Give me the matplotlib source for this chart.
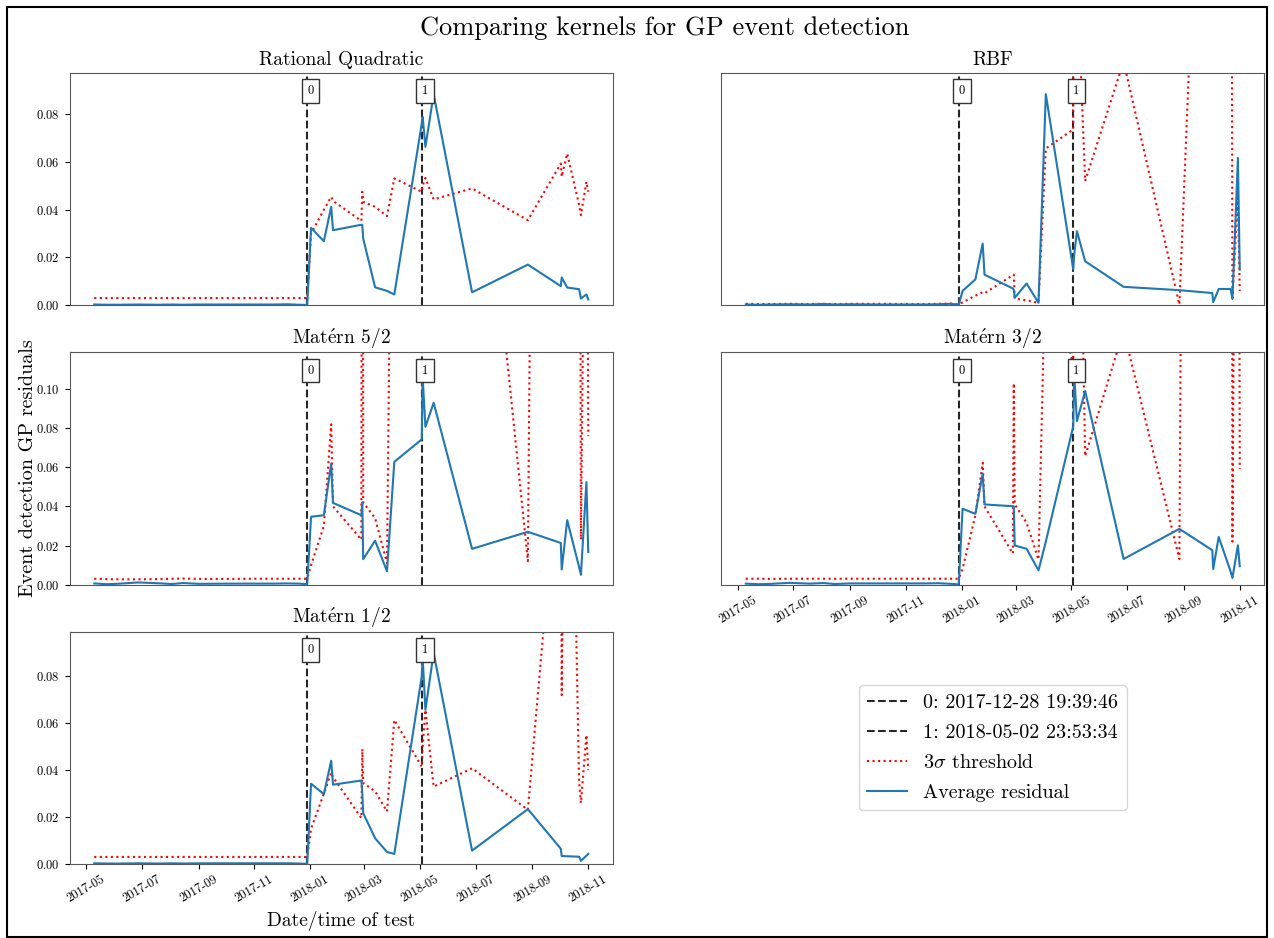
import matplotlib
matplotlib.use('Agg')
import matplotlib.pyplot as plt
import matplotlib.dates as mdates
from matplotlib.patches import Rectangle
import pandas as pd

plt.rcParams['font.family'] = 'serif'
plt.rcParams['font.serif'] = ['cmr10']
plt.rcParams['mathtext.fontset'] = 'cm'
plt.rcParams['axes.formatter.use_mathtext'] = True

# test dates (shared by every kernel)
dates = pd.to_datetime([
    '2017-05-10', '2017-05-24', '2017-06-07', '2017-06-27', '2017-07-19',
    '2017-08-03', '2017-08-15', '2017-09-01', '2017-10-04', '2017-11-01',
    '2017-11-22', '2017-12-07', '2017-12-20', '2017-12-28 19:39:46',
    '2018-01-02', '2018-01-16', '2018-01-24', '2018-01-26', '2018-02-26',
    '2018-02-27', '2018-02-28', '2018-03-13', '2018-03-26', '2018-04-03',
    '2018-05-02 23:53:34', '2018-05-04', '2018-05-07', '2018-05-16',
    '2018-06-27', '2018-08-27', '2018-10-02', '2018-10-03', '2018-10-09',
    '2018-10-22', '2018-10-24', '2018-10-30', '2018-11-01'], format='mixed')

events = pd.to_datetime(['2017-12-28 19:39:46', '2018-05-02 23:53:34'])

# average residuals
rq_res = [0.0003, 0.0002, 0.0002, 0.0003, 0.0002, 0.0003, 0.0002, 0.0003, 0.0003, 0.0003, 0.0003, 0.0004, 0.0002, 0.0001,
          0.0324, 0.0268, 0.0412, 0.0314, 0.0337, 0.0335, 0.0279, 0.0075, 0.0060, 0.0045, 0.0760, 0.0789, 0.0663,
          0.0884, 0.0054, 0.0170, 0.0080, 0.0116, 0.0074, 0.0067, 0.0028, 0.0045, 0.0024]
rbf_res = [0.0003, 0.0002, 0.0003, 0.0004, 0.0003, 0.0005, 0.0003, 0.0004, 0.0003, 0.0003, 0.0003, 0.0004, 0.0006, 0.0002,
           0.0060, 0.0108, 0.0258, 0.0128, 0.0070, 0.0065, 0.0031, 0.0091, 0.0010, 0.0884, 0.0150, 0.0210, 0.0310,
           0.0184, 0.0077, 0.0063, 0.0051, 0.0013, 0.0068, 0.0068, 0.0026, 0.0617, 0.0149]
m52_res = [0.0006, 0.0002, 0.0005, 0.0011, 0.0007, 0.0003, 0.0008, 0.0004, 0.0005, 0.0005, 0.0005, 0.0006, 0.0005, 0.0002,
           0.0347, 0.0355, 0.0620, 0.0418, 0.0355, 0.0420, 0.0130, 0.0225, 0.0068, 0.0628, 0.0743, 0.1060, 0.0807,
           0.0930, 0.0183, 0.0270, 0.0213, 0.0077, 0.0330, 0.0090, 0.0050, 0.0524, 0.0167]
m32_res = [0.0005, 0.0002, 0.0004, 0.0009, 0.0005, 0.0008, 0.0003, 0.0006, 0.0006, 0.0006, 0.0006, 0.0007, 0.0004, 0.0001,
           0.0388, 0.0362, 0.0568, 0.0410, 0.0401, 0.0400, 0.0200, 0.0183, 0.0073, 0.0220, 0.0810, 0.1080, 0.0836,
           0.0990, 0.0131, 0.0285, 0.0176, 0.0080, 0.0244, 0.0067, 0.0034, 0.0201, 0.0094]
m12_res = [0.0003, 0.0002, 0.0002, 0.0003, 0.0002, 0.0003, 0.0002, 0.0003, 0.0003, 0.0003, 0.0003, 0.0003, 0.0002, 0.0001,
           0.0342, 0.0298, 0.0440, 0.0338, 0.0356, 0.0300, 0.0217, 0.0110, 0.0051, 0.0043, 0.0800, 0.0880, 0.0657,
           0.0900, 0.0057, 0.0234, 0.0065, 0.0034, 0.0033, 0.0031, 0.0014, 0.0035, 0.0043]

# 3 sigma thresholds
rq_thr = [0.0030, 0.0030, 0.0030, 0.0030, 0.0030, 0.0030, 0.0030, 0.0030, 0.0030, 0.0030, 0.0030, 0.0030, 0.0030, 0.0030,
          0.0300, 0.0400, 0.0454, 0.0437, 0.0353, 0.0475, 0.0433, 0.0412, 0.0373, 0.0531, 0.0475, 0.0500, 0.0533,
          0.0443, 0.0489, 0.0356, 0.0593, 0.0538, 0.0635, 0.0420, 0.0377, 0.0517, 0.0475]
rbf_thr = [0.0006, 0.0005, 0.0005, 0.0006, 0.0005, 0.0006, 0.0005, 0.0006, 0.0006, 0.0005, 0.0005, 0.0006, 0.0007, 0.0004,
           0.0012, 0.0040, 0.0054, 0.0050, 0.0126, 0.0128, 0.0028, 0.0020, 0.0010, 0.0656, 0.0736, 0.3000, 0.1400,
           0.0520, 0.1020, 0.0003, 0.3400, 0.4000, 0.4000, 0.4000, 0.0030, 0.0450, 0.0060]
m52_thr = [0.0030, 0.0028, 0.0027, 0.0027, 0.0028, 0.0030, 0.0031, 0.0029, 0.0029, 0.0030, 0.0030, 0.0030, 0.0030, 0.0030,
           0.0100, 0.0300, 0.0820, 0.0400, 0.0230, 0.6000, 0.0420, 0.0340, 0.0110, 0.3700, 0.3500, 0.3500, 0.3300,
           0.3200, 0.2900, 0.0120, 2.0000, 1.8000, 0.8000, 0.5000, 0.0230, 0.3100, 0.0760]
m32_thr = [0.0030, 0.0030, 0.0029, 0.0030, 0.0030, 0.0030, 0.0030, 0.0030, 0.0030, 0.0030, 0.0030, 0.0030, 0.0030, 0.0030,
           0.0080, 0.0355, 0.0623, 0.0400, 0.0159, 0.1030, 0.0410, 0.0316, 0.0128, 0.1730, 0.1120, 0.4000, 0.3000,
           0.0657, 0.1300, 0.0131, 2.9000, 2.5000, 2.0000, 1.0000, 0.0220, 0.5000, 0.0590]
m12_thr = [0.0030, 0.0030, 0.0030, 0.0030, 0.0030, 0.0030, 0.0030, 0.0030, 0.0030, 0.0030, 0.0030, 0.0030, 0.0030, 0.0030,
           0.0150, 0.0300, 0.0390, 0.0370, 0.0196, 0.0490, 0.0345, 0.0310, 0.0224, 0.0614, 0.0415, 0.0500, 0.0657,
           0.0330, 0.0408, 0.0231, 0.1850, 0.0720, 0.3000, 0.0350, 0.0260, 0.0550, 0.0400]

titles = ['Rational Quadratic', 'RBF', r'Mat$\acute{\mathrm{e}}$rn 5/2',
          r'Mat$\acute{\mathrm{e}}$rn 3/2', r'Mat$\acute{\mathrm{e}}$rn 1/2']
residuals = [rq_res, rbf_res, m52_res, m32_res, m12_res]
thresholds = [rq_thr, rbf_thr, m52_thr, m32_thr, m12_thr]

fig, axes = plt.subplots(3, 2, figsize=(12.74, 9.38), dpi=100, sharex=True, sharey='row')
fig.subplots_adjust(left=0.0546, right=0.9925, bottom=0.0789, top=0.9222,
                    wspace=0.199, hspace=0.203)
flat = [axes[0, 0], axes[0, 1], axes[1, 0], axes[1, 1], axes[2, 0]]

for ax, title, res, thr in zip(flat, titles, residuals, thresholds):
    for i, ev in enumerate(events):
        ax.axvline(ev, color='k', ls='--', lw=1.5, alpha=0.85,
                   label='%d: %s' % (i, ev.strftime('%Y-%m-%d %H:%M:%S')))
        ax.text(ev, 0.922, str(i), transform=ax.get_xaxis_transform(),
                ha='left', va='center', fontsize=9,
                bbox=dict(boxstyle='square,pad=0.45', fc='white', ec='0.2', lw=1))
    ax.plot(dates, thr, 'r:', lw=1.5, label=r'3$\sigma$ threshold')
    ax.plot(dates, res, color='#1f77b4', lw=1.5, label='Average residual')
    ax.set_title(title, fontsize=14)
    ax.tick_params(labelsize=9)
    for sp in ax.spines.values():
        sp.set_color('0.35')

# y range of each row from the largest residual in it
for row, pair in enumerate([(rq_res, rbf_res), (m52_res, m32_res), (m12_res,)]):
    top = 1.1 * max(max(p) for p in pair)
    axes[row, 0].set_ylim(0, top)

for ax in [axes[0, 1], axes[1, 1]]:
    ax.tick_params(left=False, labelleft=False)
for ax in [axes[0, 0], axes[0, 1], axes[1, 0]]:
    ax.tick_params(bottom=False, labelbottom=False)

for ax in [axes[1, 1], axes[2, 0]]:
    ax.xaxis.set_major_locator(mdates.MonthLocator(bymonth=[1, 3, 5, 7, 9, 11]))
    ax.xaxis.set_major_formatter(mdates.DateFormatter('%Y-%m'))
    ax.tick_params(labelbottom=True)
    plt.setp(ax.get_xticklabels(), rotation=30, ha='center')

axes[1, 0].set_ylabel('Event detection GP residuals', fontsize=14.5, labelpad=-1)
axes[2, 0].set_xlabel('Date/time of test', fontsize=14)

handles, labels = axes[0, 0].get_legend_handles_labels()
axes[2, 1].axis('off')
axes[2, 1].legend(handles, labels, loc='center', fontsize=14.5, labelspacing=0.6)

fig.suptitle('Comparing kernels for GP event detection', fontsize=19, x=0.522, y=0.983)
fig.add_artist(Rectangle((0.0055, 0.0015), 0.989, 0.991, transform=fig.transFigure,
                         fill=False, ec='k', lw=1.5))

fig.savefig('out.png', dpi=100)
